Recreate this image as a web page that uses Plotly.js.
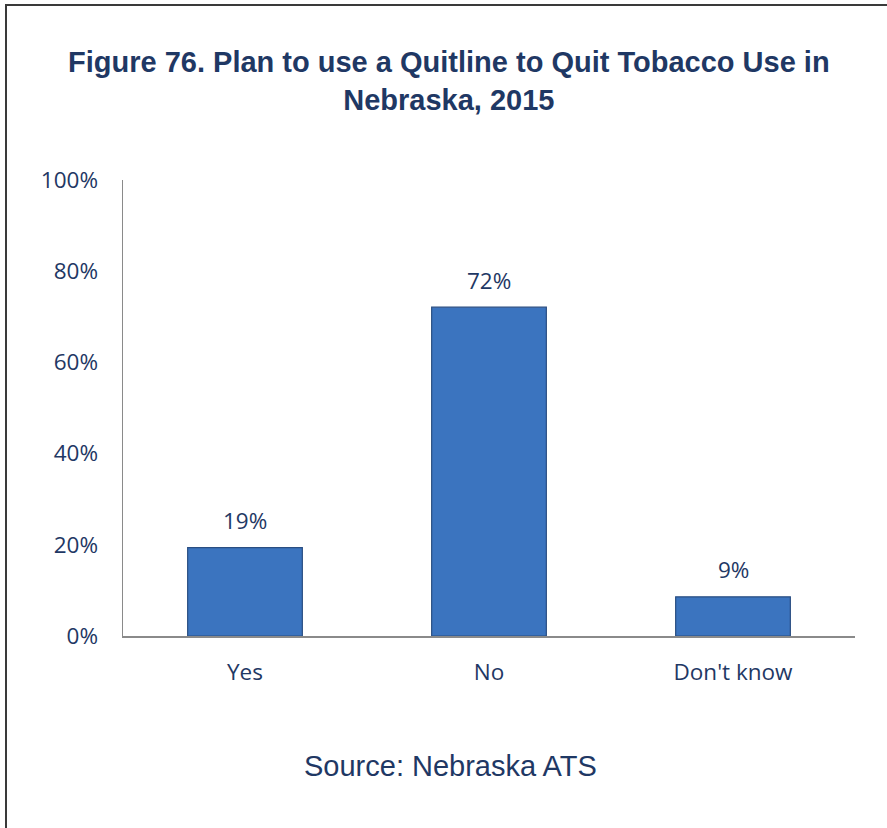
<!DOCTYPE html>
<html>
<head>
<meta charset="utf-8">
<script src="https://cdn.plot.ly/plotly-3.0.1.min.js"></script>
<style>
  html, body { margin: 0; padding: 0; background: #fff; }
  #wrap { position: relative; width: 887px; height: 828px; }
  #chart { width: 887px; height: 828px; }
  #frame { position: absolute; left: 5px; top: 4px; right: -5px; bottom: -5px;
           border-left: 2px solid #3a3a3a; border-top: 2px solid #3a3a3a; pointer-events: none; }
</style>
</head>
<body>
<div id="wrap">
  <div id="chart"></div>
  <div id="frame"></div>
</div>
<script>
const categories = ["Yes", "No", "Don't know"];
const values = [19.4, 72.1, 8.6];
const yTickVals = [0, 20, 40, 60, 80, 100];
const yTickText = ["0%", "20%", "40%", "60%", "80%", "100%"];
const titleText = "Figure 76. Plan to use a Quitline to Quit Tobacco Use in<br>Nebraska, 2015";
const sourceText = "Source: Nebraska ATS";

const navy = "#1F3864";
const tickFont = { family: "Open Sans, Lato, sans-serif", size: 22.5, color: navy };

const trace = {
  type: "bar",
  x: categories,
  y: values,
  marker: { color: "#3B74BF", line: { color: "#2A4E82", width: 1.2 } },
  hoverinfo: "skip"
};

const annotations = categories.map((c, i) => ({
  x: c, y: values[i], xref: "x", yref: "y",
  text: Math.round(values[i]) + "%",
  showarrow: false, yanchor: "middle", yshift: 27,
  font: tickFont
}));
annotations.push({
  x: 0.447, y: -0.285, xref: "paper", yref: "paper",
  text: sourceText, showarrow: false, xanchor: "center", yanchor: "middle",
  font: { family: "Liberation Sans, Arial, sans-serif", size: 29, color: navy }
});

const layout = {
  width: 887, height: 828,
  margin: { l: 123, r: 32, t: 180, b: 192 },
  paper_bgcolor: "#ffffff", plot_bgcolor: "#ffffff",
  showlegend: false,
  bargap: 0.53,
  title: {
    text: titleText,
    x: 0.506, xref: "container", xanchor: "center",
    y: 1 - 72 / 828, yref: "container", yanchor: "top",
    font: { family: "Liberation Sans, Arial, sans-serif", size: 29, color: navy, weight: "bold" }
  },
  xaxis: {
    type: "category",
    showline: true, linecolor: "#8a8a8a", linewidth: 1.5,
    showgrid: false, zeroline: false, ticks: "",
    tickfont: tickFont, ticklabelstandoff: 15
  },
  yaxis: {
    range: [0, 100], tickvals: yTickVals, ticktext: yTickText,
    showline: true, linecolor: "#8a8a8a", linewidth: 1.5,
    showgrid: false, zeroline: false, ticks: "",
    tickfont: tickFont, ticklabelstandoff: 19
  },
  annotations: annotations
};

Plotly.newPlot("chart", [trace], layout, { displayModeBar: false, staticPlot: true });
</script>
</body>
</html>
